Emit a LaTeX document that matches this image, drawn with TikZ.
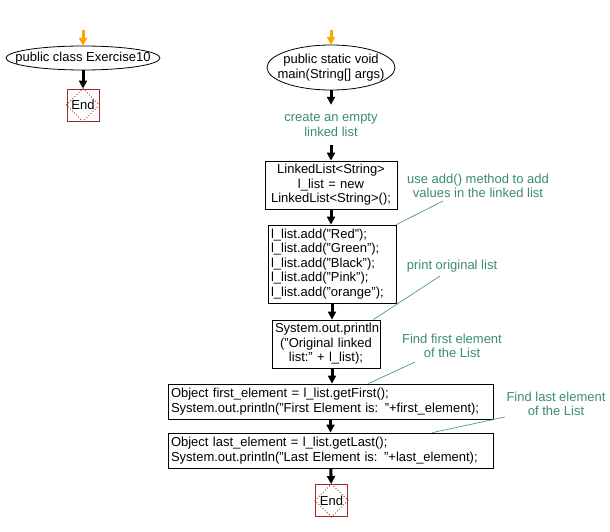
\documentclass[tikz,border=0pt]{standalone}
\usepackage{fontspec}
\setmainfont{Liberation Sans}
\usetikzlibrary{positioning}
\usetikzlibrary{arrows.meta}
\usetikzlibrary{shapes.geometric}
\definecolor{notegreen}{RGB}{58,140,110}
\definecolor{endred}{RGB}{160,40,40}
\definecolor{startorange}{RGB}{255,165,0}

\begin{document}
\begin{tikzpicture}[x=1pt,y=-1pt,
  font=\fontsize{13}{14.5}\selectfont,
  box/.style={draw,line width=0.8pt,inner sep=3pt},
  oval/.style={inner sep=0pt,align=center},
  ovalline/.style={line width=0.8pt},
  endbox/.style={draw=endred,line width=0.9pt,minimum size=32pt,inner sep=0pt},
  diam/.style={endred,line width=0.9pt,dotted},
  note/.style={text=notegreen,align=center,inner sep=0pt},
  noteline/.style={draw=notegreen,line width=0.6pt},
  flow/.style={-{Triangle[length=8pt,width=8pt]},line width=3pt},
  startflow/.style={flow,startorange}]
\useasboundingbox (0,0) rectangle (610,532);

% class column
\coordinate (clsin) at (83,30);
\node[oval,minimum width=154pt,minimum height=24pt] (cls) at (83,58) {public class Exercise10};
\draw[ovalline] (cls.center) ellipse [x radius=77, y radius=12];
\node[endbox] (end1) at (83,105) {End};
\draw[diam] (end1.north) -- (end1.east) -- (end1.south) -- (end1.west) -- cycle;
\draw[startflow] (clsin) -- (cls.north);
\draw[flow] (cls.south) -- (end1);

% main column
\coordinate (mainin) at (331,30);
\node[oval,minimum width=128pt,minimum height=45pt] (mainfn) at (331,67.5) {public static void\\main(String[] args)};
\draw[ovalline] (mainfn.center) ellipse [x radius=64, y radius=22.5];
\node[note,minimum height=40pt] (create) at (331,125) {create an empty\\linked list};
\node[box,text width=126pt,minimum height=48pt,align=center] (b1) at (331,185) {LinkedList<String>\\l\_list = new\\LinkedList<String>();};
\node[box,text width=122pt,minimum height=78pt,align=left] (b2) at (332,264) {l\_list.add("Red");\\l\_list.add("Green");\\l\_list.add("Black");\\l\_list.add("Pink");\\l\_list.add("orange");};
\node[box,text width=102pt,minimum height=48pt,align=center] (b3) at (326,344) {System.out.println\\("Original linked\\list:" + l\_list);};
\node[box,text width=319pt,minimum height=35pt,align=left] (b4) at (330.5,401.5) {Object first\_element = l\_list.getFirst();\\System.out.println("First Element is: "+first\_element);};
\node[box,text width=319pt,minimum height=35pt,align=left] (b5) at (330.5,450.5) {Object last\_element = l\_list.getLast();\\System.out.println("Last Element is: "+last\_element);};
\node[endbox] (end2) at (331.5,500.5) {End};
\draw[diam] (end2.north) -- (end2.east) -- (end2.south) -- (end2.west) -- cycle;

\draw[startflow] (mainin) -- (mainfn.north);
\draw[flow] (mainfn.south) -- (create);
\draw[flow] (create) -- (b1);
\draw[flow] (b1) -- (b1 |- b2.north);
\draw[flow] (b2.south) -- (b2.south |- b3.north);
\draw[flow] (b2.south |- b3.south) -- (b2.south |- b4.north);
\draw[flow] (b4) -- (b5);
\draw[flow] (b5) -- (end2);

% comments
\node[note] (addnote) at (478,186) {use add() method to add\\values in the linked list};
\coordinate (addtip) at (443,201);
\draw[noteline] (b2.north east) -- (addtip);
\node[note] (printnote) at (452,266) {print original list};
\coordinate (printtip) at (440,276);
\draw[noteline] ([xshift=-7pt]b3.north east) -- (printtip);
\node[note] (firstnote) at (452,346) {Find first element\\of the List};
\coordinate (firsttip) at (415,362);
\draw[noteline] ([xshift=38pt]b4.north) -- (firsttip);
\node[note] (lastnote) at (556,404) {Find last element\\of the List};
\coordinate (lasttip) at (505,417);
\draw[noteline] ([xshift=102pt]b5.north) -- (lasttip);
\end{tikzpicture}
\end{document}
